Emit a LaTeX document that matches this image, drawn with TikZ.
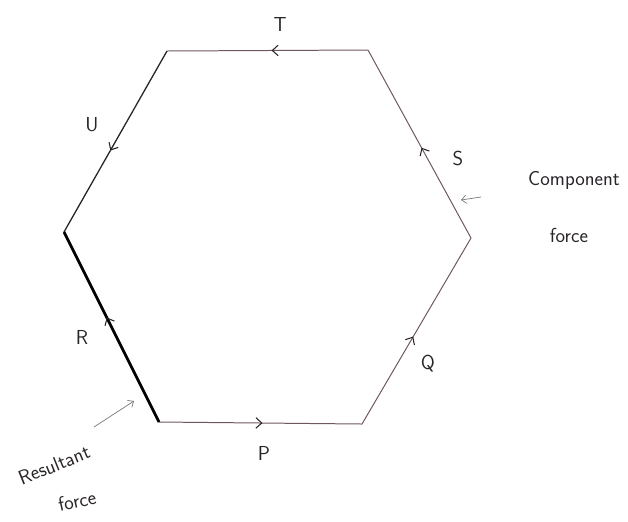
\documentclass[tikz,border=0pt]{standalone}
\usepackage{tikz}
\usetikzlibrary{arrows.meta, positioning, decorations.markings}
\definecolor{cInk}{RGB}{40,36,40}
\definecolor{cPen}{RGB}{110,88,94}
\definecolor{cPencil}{RGB}{120,120,120}
\tikzset{
  side/.style={draw=cPen, line width=0.85pt},
  darkside/.style={draw=cInk, line width=1.1pt},
  resside/.style={draw=black, line width=2.3pt},
  midarrow/.style={postaction={decorate}, decoration={markings,
      mark=at position #1 with {\arrow{Straight Barb[length=5pt,width=9pt,line width=0.9pt,color=cInk]}}}},
  forcelabel/.style={font=\sffamily\LARGE, text=cInk},
  notelabel/.style={font=\sffamily\LARGE, text=cInk, inner sep=0pt},
  pointer/.style={-{Straight Barb[length=4pt,width=7pt]}, line width=0.6pt, color=cPencil}
}

\begin{document}
\begin{tikzpicture}[x=0.03cm, y=-0.03cm]
  \useasboundingbox (0,0) rectangle (628,521);

  % Corners of the force polygon
  \coordinate (tl) at (167,51);
  \coordinate (tr) at (368,50);
  \coordinate (rt) at (471,238);
  \coordinate (br) at (362,424);
  \coordinate (bl) at (159,422);
  \coordinate (lf) at (64,232);

  % Sides, taken head to tail
  \draw[side, midarrow=0.51] (bl) -- (br);
  \draw[side, midarrow=0.47] (br) -- (rt);
  \draw[side, midarrow=0.48] (rt) -- (tr);
  \draw[side, midarrow=0.48] (tr) -- (tl);
  \draw[darkside, midarrow=0.55] (tl) -- (lf);
  \draw[resside, midarrow=0.55] (bl) -- (lf);

  % Side labels
  \node[forcelabel] (lP) at (264,453) {P};
  \node[forcelabel] (lQ) at (428,364) {Q};
  \node[forcelabel] (lS) at (458,158) {S};
  \node[forcelabel] (lT) at (280,24) {T};
  \node[forcelabel] (lU) at (92,125) {U};
  \node[forcelabel] (lR) at (82,337) {R};

  % Notes
  \node[notelabel] (comp) at (574,180) {Component};
  \node[notelabel, below=1.15cm of comp, xshift=-0.15cm] (compf) {force};
  \node[notelabel, rotate=22] (res) at (54,465) {Resultant};
  \node[notelabel, rotate=12] (resf) at (77,501) {force};

  \coordinate (compTail) at (481,197);
  \coordinate (compTip) at (461,200);
  \coordinate (resTail) at (94,427);
  \coordinate (resTip) at (134,401);
  \draw[pointer] (compTail) -- (compTip);
  \draw[pointer] (resTail) -- (resTip);

\end{tikzpicture}
\end{document}
